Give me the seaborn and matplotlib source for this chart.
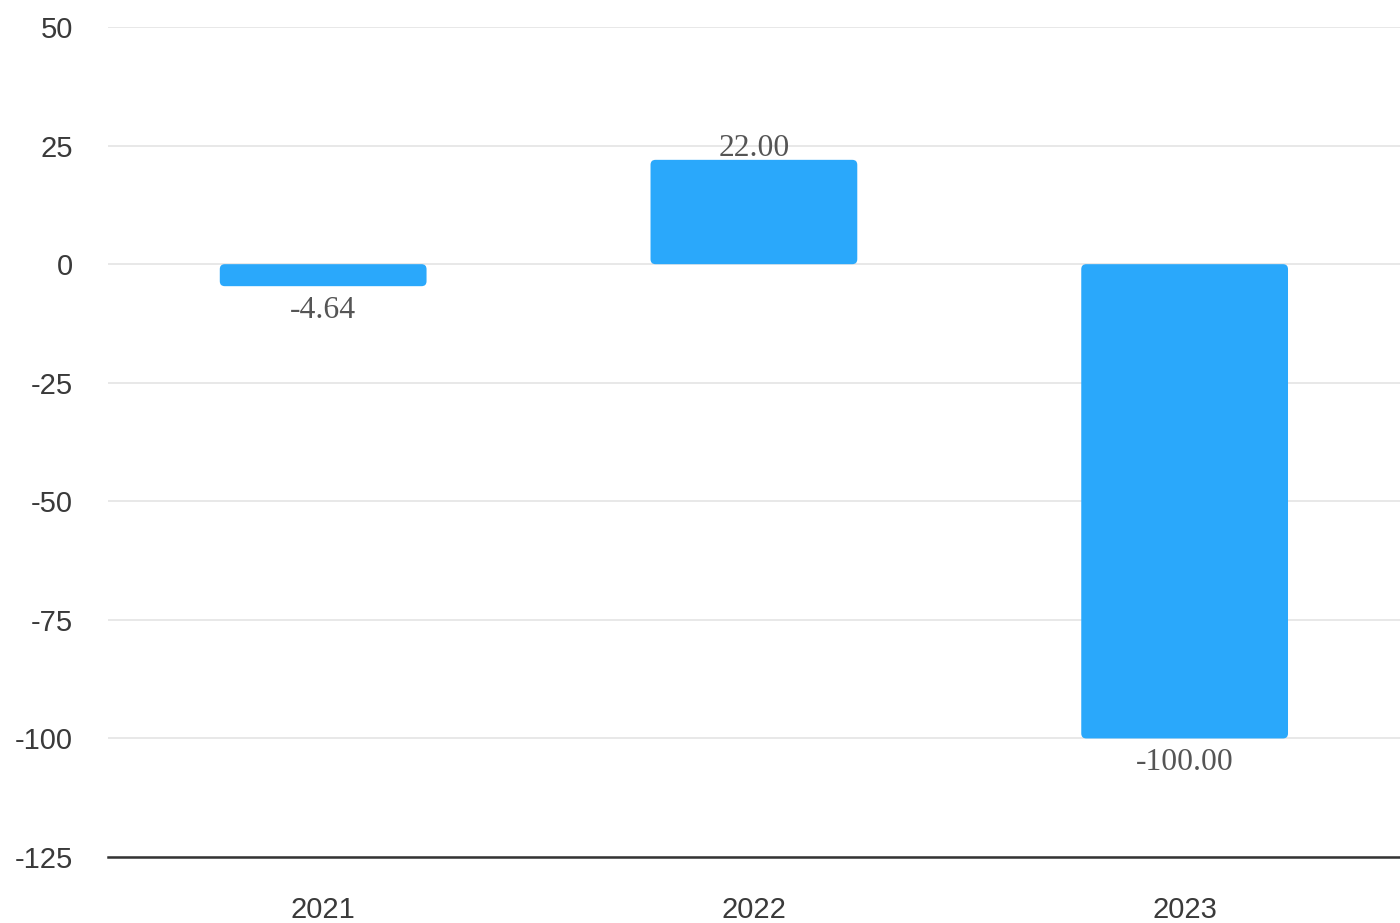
import numpy as np
import pandas as pd
import matplotlib
matplotlib.use('Agg')
import matplotlib.pyplot as plt
import seaborn as sns
from matplotlib.patches import FancyBboxPatch

years = ["2021", "2022", "2023"]
values = [-4.64, 22.00, -100.00]
yticks = [50, 25, 0, -25, -50, -75, -100, -125]

df = pd.DataFrame({"year": years, "value": values})

sns.set_theme(style="white")
plt.rcParams['font.family'] = ['Liberation Sans', 'DejaVu Sans']

fig = plt.figure(figsize=(14, 9.23), dpi=100)
ax = fig.add_axes([0.077, 0.0715, 0.923, 0.8992])

sns.barplot(data=df, x="year", y="value", color="#2aa8fb", width=0.48,
            saturation=1, ax=ax, zorder=3)

ax.set_xlim(-0.5, 2.5)
ax.set_ylim(-125, 50)

# px per data unit in x and y, so the corner radius comes out round
bbox = ax.get_window_extent()
px_x = bbox.width / 3.0
px_y = bbox.height / 175.0
aspect = px_x / px_y

# swap plain bars for slightly rounded ones
for p in list(ax.patches):
    x0, y0 = p.get_x(), p.get_y()
    w, h = p.get_width(), p.get_height()
    if h < 0:
        y0, h = y0 + h, -h
    rb = FancyBboxPatch((x0, y0), w, h,
                        boxstyle="round,pad=0,rounding_size=%f" % (5 / px_x),
                        mutation_aspect=aspect,
                        facecolor="#2aa8fb", edgecolor="none", zorder=3)
    p.remove()
    ax.add_patch(rb)

for i, v in enumerate(values):
    if v >= 0:
        ax.text(i, v - 0.6, f"{v:.2f}", ha="center", va="bottom",
                fontsize=22.8, color="#555555", family="Liberation Serif", zorder=4)
    else:
        ax.text(i, v - 2.0, f"{v:.2f}", ha="center", va="top",
                fontsize=22.8, color="#555555", family="Liberation Serif", zorder=4)

ax.set_yticks(yticks)
ax.set_yticklabels([str(t) for t in yticks])
ax.grid(axis="y", color="#e6e6e6", linewidth=1.3, zorder=0)
ax.set_xlabel("")
ax.set_ylabel("")

for s in ["top", "right", "left"]:
    ax.spines[s].set_visible(False)
ax.spines["bottom"].set_color("#333333")
ax.spines["bottom"].set_linewidth(1.8)
ax.spines["bottom"].set_zorder(5)

ax.tick_params(axis="y", length=0, pad=25, labelsize=21, labelcolor="#3a3a3a")
ax.tick_params(axis="x", length=0, pad=28, labelsize=21, labelcolor="#3a3a3a")

fig.savefig("out.png", dpi=100)
